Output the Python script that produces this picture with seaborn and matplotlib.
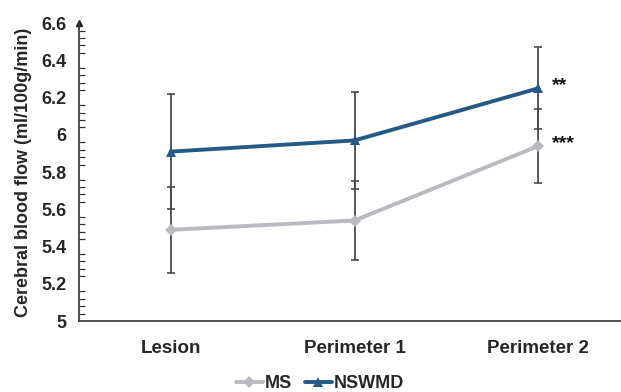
import matplotlib
matplotlib.use('Agg')
import matplotlib.pyplot as plt
from matplotlib.ticker import MultipleLocator, FuncFormatter
import pandas as pd
import seaborn as sns

# Data
REGIONS = ['Lesion', 'Perimeter 1', 'Perimeter 2']
MS_MEAN = [5.49, 5.54, 5.94]
MS_SD = [0.23, 0.21, 0.20]
NSWMD_MEAN = [5.91, 5.97, 6.25]
NSWMD_SD = [0.31, 0.26, 0.22]
STARS = {'MS': '***', 'NSWMD': '**'}

COLORS = {'MS': '#B9BAC0', 'NSWMD': '#255A87'}
MARKERS = {'MS': 'D', 'NSWMD': '^'}

sns.set_style('white')
plt.rcParams['font.family'] = ['Liberation Sans', 'DejaVu Sans']
plt.rcParams['font.weight'] = 'bold'

df = pd.concat([
    pd.DataFrame({'region': REGIONS, 'cbf': MS_MEAN, 'sd': MS_SD, 'group': 'MS'}),
    pd.DataFrame({'region': REGIONS, 'cbf': NSWMD_MEAN, 'sd': NSWMD_SD, 'group': 'NSWMD'}),
], ignore_index=True)
df['x'] = df['region'].map({r: i for i, r in enumerate(REGIONS)})

fig = plt.figure(figsize=(6.21, 3.92), dpi=100)
ax = fig.add_axes([0.127, 0.181, 0.873, 0.76])

# error bars (behind the lines)
for grp, sub in df.groupby('group'):
    ax.errorbar(sub['x'], sub['cbf'], yerr=sub['sd'], fmt='none',
                ecolor='#4a4a4a', elinewidth=1.3, capsize=3, capthick=1.2,
                zorder=1)

sns.lineplot(data=df, x='x', y='cbf', hue='group', style='group',
             palette=COLORS, markers=MARKERS, dashes=False, sort=False,
             linewidth=2.8, markersize=7.5, markeredgewidth=0, ax=ax, zorder=3)
# the diamond reads a little smaller than the triangle in the reference
for line in ax.get_lines():
    if line.get_marker() == 'D':
        line.set_markersize(6)

# significance stars next to Perimeter 2
for grp, sub in df.groupby('group'):
    last = sub.iloc[-1]
    ax.annotate(STARS[grp], (last['x'], last['cbf']), xytext=(10, 2),
                textcoords='offset points', ha='left', va='center',
                fontsize=14, fontweight='bold', color='#111111')

ax.set_xlim(-0.5, 2.45)
ax.set_ylim(5, 6.6)
ax.set_xticks(range(len(REGIONS)))
ax.set_xticklabels(REGIONS, fontsize=13.5, fontweight='bold')
ax.yaxis.set_major_locator(MultipleLocator(0.2))
ax.yaxis.set_minor_locator(MultipleLocator(0.04))
ax.yaxis.set_major_formatter(FuncFormatter(lambda v, _: f'{v:.1f}'.rstrip('0').rstrip('.')))
for lab in ax.get_yticklabels():
    lab.set_fontsize(13)
    lab.set_fontweight('bold')
ax.tick_params(axis='y', which='major', direction='out', length=6, width=1.1,
               color='#333333', pad=3)
ax.tick_params(axis='y', which='minor', direction='in', length=4, width=0.9,
               color='#333333', left=True)
ax.tick_params(axis='x', length=0, pad=14)
ax.set_xlabel('')
ax.set_ylabel('Cerebral blood flow (ml/100g/min)', fontsize=13,
              fontweight='bold', labelpad=7)

for s in ['top', 'right']:
    ax.spines[s].set_visible(False)
for s in ['left', 'bottom']:
    ax.spines[s].set_color('#333333')
    ax.spines[s].set_linewidth(1.2)
ax.plot(0, 1, marker='^', color='#222222', markersize=5,
        transform=ax.transAxes, clip_on=False)

handles, labels = ax.get_legend_handles_labels()
ax.legend(handles, labels, loc='lower center', bbox_to_anchor=(0.515, -0.01),
          bbox_transform=fig.transFigure, ncol=2, frameon=False,
          fontsize=13, handlelength=1.5, handletextpad=0.1,
          columnspacing=0.7, borderaxespad=0.0, borderpad=0.2)

plt.savefig('out.png', dpi=100)
plt.close()
